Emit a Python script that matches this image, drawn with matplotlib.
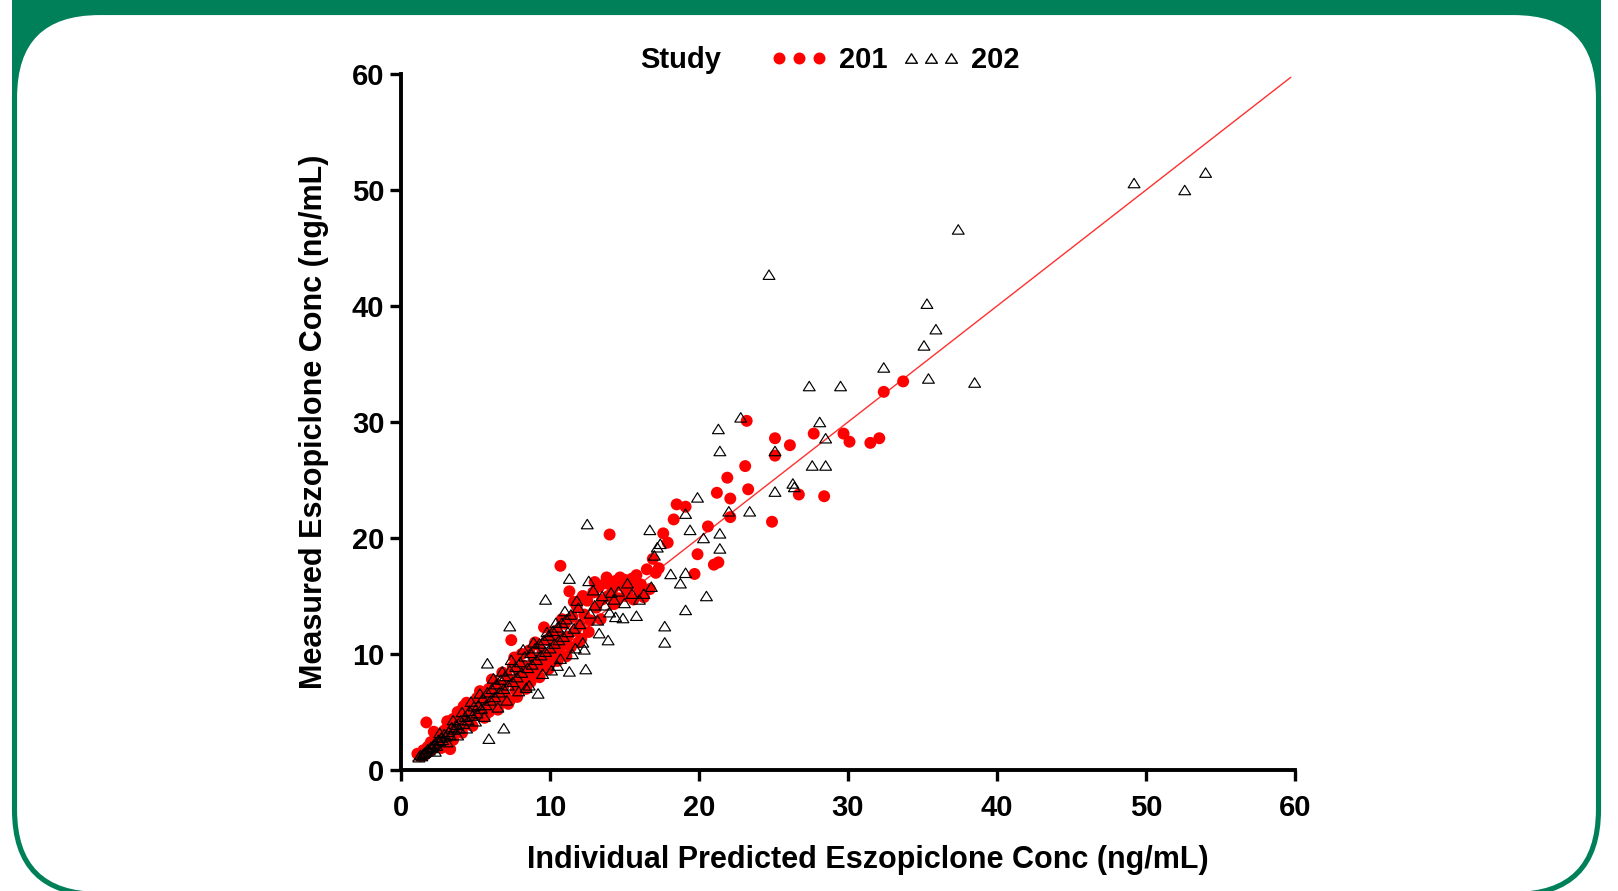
import matplotlib
matplotlib.use("Agg")
import matplotlib.pyplot as plt
from matplotlib.patches import Rectangle, FancyBboxPatch
from matplotlib.lines import Line2D
from matplotlib.path import Path

plt.rcParams['font.family'] = ['Liberation Sans', 'DejaVu Sans']
plt.rcParams['font.weight'] = 'bold'

# ---------------- data ----------------
x201 = [1.1, 1.3, 1.5, 1.6, 1.7, 1.8, 1.9, 2.0, 2.1, 2.3, 2.4, 2.5, 2.6, 2.8, 2.9, 3.0, 3.1, 3.3, 3.3, 3.4,
        3.5, 3.6, 3.8, 3.9, 4.0, 4.1, 4.2, 4.3, 4.5, 4.6, 4.7, 4.8, 5.0, 5.1, 5.2, 5.4, 5.5, 5.6, 5.8, 5.9,
        6.0, 6.2, 6.3, 6.4, 6.6, 6.7, 6.9, 7.0, 7.1, 7.3, 7.4, 7.4, 7.6, 7.7, 7.9, 8.0, 8.2, 8.3, 8.5, 8.6,
        8.8, 8.9, 9.1, 9.2, 9.4, 9.5, 9.7, 9.8, 10.0, 10.1, 10.3, 10.4, 10.6, 10.7, 10.7, 10.9, 11.0, 11.2, 11.3, 11.4,
        11.5, 11.7, 11.8, 12.0, 12.1, 12.3, 12.5, 12.7, 12.9, 13.1, 13.3, 13.5, 13.7, 13.9, 14.0, 14.2, 14.4, 14.6, 14.8, 15.0,
        15.2, 15.4, 15.6, 15.8, 16.0, 16.3, 16.5, 16.7, 16.9, 17.1, 17.3, 17.6, 17.9, 18.3, 18.5, 19.1, 19.7, 19.9, 20.6, 21.0,
        21.3, 21.2, 21.9, 22.1, 22.1, 23.1, 23.2, 23.3, 24.9, 25.1, 25.1, 26.1, 26.7, 27.7, 28.4, 29.7, 30.1, 31.5, 32.1, 32.4,
        33.7,
        2.2, 2.7, 3.1, 3.5, 3.8, 4.1, 4.4, 4.8, 5.3, 5.6, 5.9, 6.1, 6.5, 6.8, 7.2, 7.5, 7.8, 8.1, 8.4, 8.7,
        9.0, 9.3, 9.6, 9.9, 10.2, 10.5, 10.8, 11.1, 11.6, 11.9, 12.2, 12.6, 13.0, 13.4, 13.8, 14.3, 14.7, 15.1, 15.5, 16.1]
y201 = [1.4, 1.2, 1.7, 1.3, 4.1, 2.0, 1.6, 2.4, 1.8, 2.7, 2.1, 3.0, 2.3, 2.6, 3.4, 2.2, 3.0, 1.8, 3.8, 3.1,
        4.4, 3.4, 4.0, 3.6, 4.7, 4.2, 5.5, 3.9, 4.9, 4.3, 5.7, 4.6, 5.3, 6.2, 4.8, 5.7, 6.6, 5.2, 6.1, 7.0,
        5.6, 6.5, 7.5, 6.0, 6.9, 5.8, 7.3, 6.4, 8.1, 6.0, 11.2, 7.7, 9.7, 6.9, 8.5, 7.5, 9.0, 7.9, 8.8, 10.3,
        8.4, 9.6, 9.2, 10.8, 8.9, 10.1, 9.6, 11.2, 10.0, 9.3, 10.7, 12.0, 10.2, 11.3, 17.6, 10.8, 12.6, 11.5, 15.4, 10.6,
        13.2, 12.0, 14.1, 12.5, 11.3, 13.4, 14.6, 12.9, 15.3, 14.0, 15.8, 14.7, 16.1, 15.0, 20.3, 15.6, 16.3, 14.8, 15.9, 16.4,
        15.2, 16.1, 14.7, 16.8, 15.5, 14.9, 17.3, 15.6, 18.2, 17.0, 17.4, 20.4, 19.6, 21.6, 22.9, 22.7, 16.9, 18.6, 21.0, 17.7,
        17.9, 23.9, 25.2, 23.4, 21.8, 26.2, 30.1, 24.2, 21.4, 28.6, 27.1, 28.0, 23.75, 29.0, 23.6, 29.0, 28.3, 28.2, 28.6, 32.6,
        33.5,
        3.3, 1.9, 4.2, 2.6, 5.0, 3.2, 5.8, 3.8, 6.8, 4.5, 5.0, 7.8, 5.2, 8.4, 5.7, 8.9, 6.3, 10.0, 7.0, 7.6,
        11.0, 8.0, 12.3, 8.7, 11.8, 9.4, 13.0, 9.8, 14.5, 11.0, 15.0, 11.9, 16.2, 13.0, 16.6, 14.3, 16.6, 15.0, 16.5, 16.0]

x202 = [1.2, 1.3, 1.4, 1.5, 1.6, 1.7, 1.8, 1.9, 2.0, 2.1, 2.2, 2.3, 2.4, 2.5, 2.6, 2.7, 2.8, 2.9, 3.0, 3.2,
        3.3, 3.4, 3.6, 3.7, 3.9, 4.0, 4.2, 4.3, 4.5, 4.6, 4.8, 4.9, 5.1, 5.2, 5.4, 5.5, 5.7, 5.8, 5.9, 5.8,
        6.0, 6.1, 6.3, 6.4, 6.6, 6.7, 6.9, 6.9, 7.0, 7.2, 7.3, 7.3, 7.5, 7.7, 7.8, 8.0, 8.1, 8.3, 8.4, 8.5,
        8.7, 8.8, 9.0, 9.1, 9.2, 9.3, 9.4, 9.6, 9.7, 9.7, 9.9, 10.0, 10.2, 10.3, 10.5, 10.5, 10.6, 10.8, 10.9, 11.1,
        11.2, 11.3, 11.3, 11.4, 11.6, 11.7, 11.9, 12.0, 12.2, 12.4, 12.5, 12.6, 12.7, 13.0, 13.2, 13.5, 13.9, 14.0, 14.3, 14.6,
        14.9, 15.2, 15.8, 16.0, 16.7, 16.8, 17.4, 17.7, 17.7, 18.75, 19.1, 19.1, 19.1, 19.4, 19.9, 20.3, 20.5, 21.3, 21.4, 21.4,
        21.4, 22.0, 22.8, 23.4, 25.1, 25.1, 24.7, 26.3, 26.4, 27.4, 27.6, 28.1, 28.5, 28.5, 29.5, 32.4, 35.1, 35.3, 35.4, 35.9,
        37.4, 38.5, 49.2, 52.6, 54.0,
        2.3, 2.6, 3.1, 3.5, 3.8, 4.1, 4.4, 4.7, 5.0, 5.3, 5.6, 6.2, 6.5, 6.8, 7.1, 7.4, 7.9, 8.2, 8.6, 8.9,
        9.5, 9.8, 10.1, 10.4, 10.7, 11.0, 11.5, 11.8, 12.3, 12.9, 13.3, 13.7, 14.1, 14.4, 15.0, 15.5, 16.3, 17.0, 17.2, 18.1]
y202 = [1.1, 1.3, 1.2, 1.4, 1.5, 1.6, 1.8, 1.7, 2.0, 1.9, 2.2, 2.3, 2.1, 2.6, 2.5, 2.8, 2.6, 3.1, 2.9, 3.3,
        3.0, 3.7, 3.5, 3.9, 3.6, 4.3, 4.0, 4.6, 4.3, 5.1, 4.7, 5.5, 4.9, 5.6, 5.3, 6.2, 5.6, 6.7, 2.7, 9.2,
        6.0, 7.0, 6.3, 7.4, 6.7, 7.8, 3.6, 7.0, 8.1, 7.3, 12.4, 8.6, 7.6, 8.9, 8.0, 9.3, 8.4, 9.8, 7.1, 8.8,
        10.1, 9.1, 10.5, 9.5, 6.6, 10.9, 9.9, 11.2, 14.7, 10.2, 11.6, 10.5, 12.0, 10.9, 9.0, 12.3, 11.2, 12.7, 11.5, 13.0,
        11.9, 8.5, 16.5, 13.4, 12.2, 10.5, 14.0, 12.6, 11.0, 8.7, 21.2, 16.3, 13.5, 14.2, 12.9, 15.0, 11.2, 13.6, 14.7, 15.4,
        13.1, 16.1, 13.3, 14.7, 20.7, 15.8, 19.5, 12.4, 11.0, 16.1, 22.1, 17.0, 13.8, 20.7, 23.5, 20.0, 15.0, 29.4, 27.5, 20.4,
        19.1, 22.3, 30.4, 22.3, 27.5, 24.0, 42.7, 24.7, 24.4, 33.1, 26.25, 30.0, 26.25, 28.6, 33.1, 34.7, 36.6, 40.2, 33.75, 38.0,
        46.6, 33.4, 50.6, 50.0, 51.5,
        1.6, 3.2, 2.4, 4.3, 3.0, 5.0, 3.6, 5.9, 4.2, 6.6, 4.6, 7.9, 5.4, 8.5, 6.0, 9.5, 6.8, 10.4, 7.3, 11.0,
        8.3, 11.9, 8.6, 12.7, 9.6, 13.7, 10.0, 14.6, 10.4, 15.5, 11.8, 14.2, 15.3, 13.2, 14.4, 15.2, 15.2, 18.5, 19.2, 16.9]

line_x = [0.8, 59.7]
line_y = [0.8, 59.7]

study_labels = ['201', '202']
ticks = [0, 10, 20, 30, 40, 50, 60]

GREEN = '#008059'
W, H = 1618, 891

fig = plt.figure(figsize=(W / 100, H / 100), dpi=100)

# ---------------- frame ----------------
bg = fig.add_axes([0, 0, 1, 1], zorder=0)
bg.set_xlim(0, W)
bg.set_ylim(H, 0)
bg.axis('off')
bg.add_patch(Rectangle((12, 0), 1589, 130, facecolor=GREEN, edgecolor='none'))
bg.add_patch(FancyBboxPatch((14.5, 12.5), 1584, 882,
                            boxstyle='round,pad=0,rounding_size=85',
                            facecolor='white', edgecolor=GREEN, linewidth=3.7))

# ---------------- main axes ----------------
AX_L, AX_R, AX_T, AX_B = 401, 1295, 74, 770
ax = fig.add_axes([AX_L / W, 1 - AX_B / H, (AX_R - AX_L) / W, (AX_B - AX_T) / H], zorder=2)
ax.set_facecolor('none')

tri = Path([(-1, -0.8), (1, -0.8), (0, 0.8), (-1, -0.8)],
           [Path.MOVETO, Path.LINETO, Path.LINETO, Path.CLOSEPOLY])

ax.plot(line_x, line_y, color='#ff3030', lw=1.0, zorder=1)
ax.scatter(x201, y201, s=74, c='#ff0000', edgecolors='none', zorder=2, clip_on=False)
ax.scatter(x202, y202, s=72, marker=tri, facecolors='none', edgecolors='black',
           linewidths=0.85, zorder=3, clip_on=False)

ax.set_xlim(0, 60)
ax.set_ylim(0, 60)
ax.set_xticks(ticks)
ax.set_yticks(ticks)
ax.tick_params(axis='both', length=8, width=2.4, labelsize=21, direction='out')
ax.tick_params(axis='x', pad=9.5)
ax.tick_params(axis='y', pad=4.0)
for lab in ax.get_xticklabels() + ax.get_yticklabels():
    lab.set_fontweight('bold')
for side in ['top', 'right']:
    ax.spines[side].set_visible(False)
for side in ['left', 'bottom']:
    ax.spines[side].set_linewidth(2.8)

ax.set_xlabel('Individual Predicted Eszopiclone Conc (ng/mL)', fontsize=22, fontweight='bold')
ax.set_ylabel('Measured Eszopiclone Conc (ng/mL)', fontsize=22, fontweight='bold')
ax.xaxis.set_label_coords((868 - AX_L) / (AX_R - AX_L), -(845 - AX_B) / (AX_B - AX_T))
ax.yaxis.set_label_coords(-(AX_L - 329) / (AX_R - AX_L), 0.5)

# ---------------- legend ----------------
fig.text(681 / W, 1 - 60 / H, 'Study', fontsize=21, fontweight='bold', ha='center', va='center')
handles = [
    Line2D([], [], linestyle='none', marker='o', markersize=8.6, markerfacecolor='#ff0000',
           markeredgecolor='none'),
    Line2D([], [], linestyle='none', marker=tri, markersize=8.5, markerfacecolor='none',
           markeredgecolor='black', markeredgewidth=1.0),
]
leg = fig.legend(handles, study_labels, ncol=2, numpoints=3, frameon=False,
                 loc='center left', bbox_to_anchor=(770 / W, 1 - 60 / H),
                 prop={'size': 21, 'weight': 'bold'},
                 handlelength=1.98, handletextpad=0.375, columnspacing=0.52,
                 borderpad=0, borderaxespad=0)

fig.savefig('out.png', dpi=100)
